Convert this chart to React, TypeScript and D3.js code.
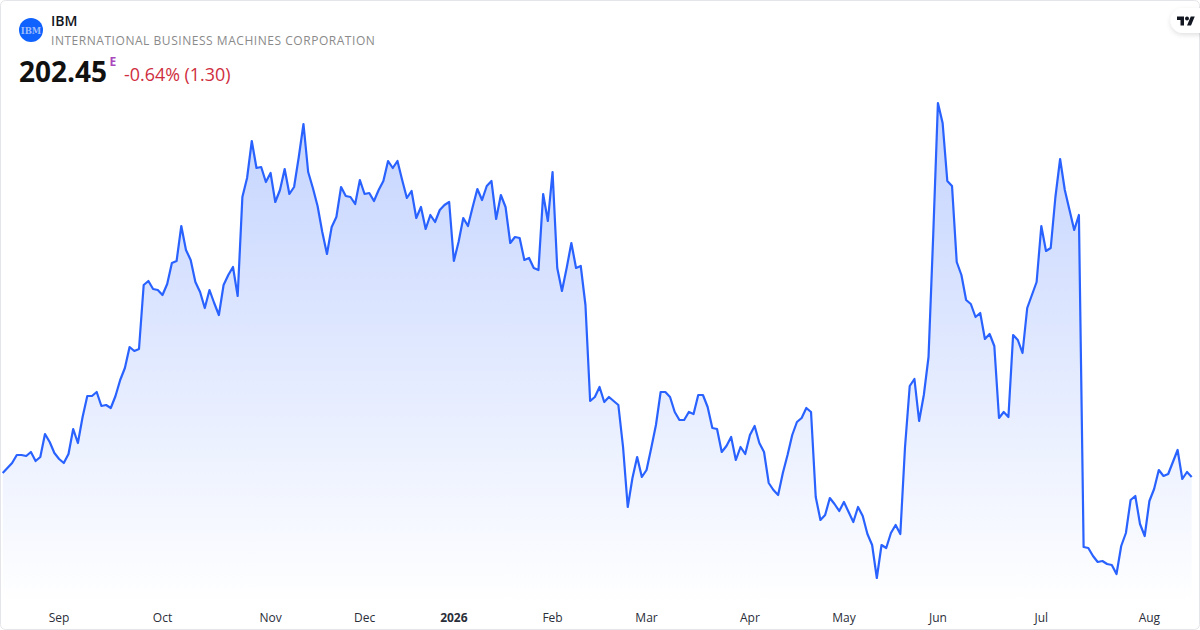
import { useEffect, useRef } from "react";
import * as d3 from "d3";

// daily close
const closes = [
  203.49, 204.79, 206.09, 208.17, 208.17, 207.91, 208.95, 206.61, 207.65, 213.63,
  211.55, 208.69, 207.13, 206.09, 208.43, 214.93, 211.29, 218.05, 223.51, 223.51,
  224.55, 220.91, 221.17, 220.39, 223.51, 227.67, 230.79, 236.25, 235.21, 235.73,
  252.37, 253.41, 251.33, 251.07, 249.77, 252.63, 258.09, 258.61, 267.71, 261.47,
  258.87, 253.15, 250.55, 246.39, 251.07, 247.69, 244.57, 252.37, 254.97, 257.05,
  249.51, 275.25, 280.19, 289.81, 282.79, 283.05, 279.15, 281.49, 273.95, 277.07,
  282.53, 276.03, 277.85, 285.65, 294.23, 281.75, 277.59, 272.91, 266.15, 260.43,
  267.45, 270.05, 277.85, 275.51, 275.25, 273.43, 279.67, 276.03, 276.29, 274.21,
  277.07, 279.41, 284.61, 282.79, 284.61, 279.67, 274.99, 276.81, 269.79, 272.65,
  266.93, 270.57, 268.75, 271.87, 273.17, 273.95, 258.61, 263.55, 269.79, 267.71,
  272.65, 277.33, 274.47, 278.11, 279.41, 269.53, 275.77, 272.65, 263.29, 264.85,
  264.59, 258.87, 259.39, 256.79, 256.27, 276.03, 269.01, 281.75, 256.79, 250.81,
  256.79, 263.29, 256.79, 257.31, 247.17, 222.21, 223.25, 225.85, 221.95, 223.25,
  222.21, 221.17, 210.25, 194.65, 202.19, 207.65, 202.45, 204.27, 209.99, 215.97,
  224.55, 224.55, 223.25, 219.35, 217.27, 217.27, 219.35, 218.83, 223.77, 223.77,
  220.65, 215.19, 214.93, 208.95, 210.51, 212.85, 206.87, 210.25, 208.43, 213.37,
  215.71, 211.29, 208.95, 200.89, 199.07, 197.77, 203.49, 208.17, 213.37, 216.75,
  217.79, 220.39, 219.35, 197.25, 191.27, 192.57, 196.99, 195.43, 193.61, 195.95,
  193.35, 190.75, 194.65, 192.31, 187.63, 184.77, 176.19, 184.77, 183.99, 187.89,
  189.97, 187.63, 210.25, 226.11, 227.93, 217.01, 223.77, 233.65, 265.37, 299.69,
  294.49, 279.41, 278.11, 258.35, 254.97, 248.47, 247.43, 244.05, 245.09, 238.33,
  239.63, 236.51, 217.79, 219.35, 218.05, 239.37, 238.07, 234.69, 246.39, 249.77,
  253.15, 267.71, 261.21, 261.99, 275.25, 285.13, 277.07, 271.87, 266.67, 270.57,
  184.25, 183.99, 181.91, 180.35, 180.61, 179.83, 179.57, 177.23, 184.51, 187.89,
  196.47, 197.51, 190.23, 187.11, 196.21, 199.33, 204.27, 202.71, 203.23, 206.35,
  209.47, 201.93, 203.75, 202.45,
];

// bar index where each month starts
const tickIndex = [12, 34, 57, 77, 96, 117, 137, 159, 179, 199, 221, 244];
const tickLabels = ["Sep", "Oct", "Nov", "Dec", "2026", "Feb", "Mar", "Apr", "May", "Jun", "Jul", "Aug"];

const W = 1200;
const H = 630;
const FONT = "'Open Sans', 'Noto Sans', sans-serif";
const BLUE = "#2962ff";

const App = () => {
  const svgRef = useRef<SVGSVGElement>(null);

  useEffect(() => {
    const svg = d3.select(svgRef.current);
    svg.selectAll("*").remove();

    const x = d3.scaleLinear().domain([0, closes.length - 1]).range([2.7, 1191.7]);
    const [lo, hi] = d3.extent(closes) as [number, number];
    const y = d3.scaleLinear().domain([lo, hi]).range([578, 103]);

    const defs = svg.append("defs");
    const grad = defs.append("linearGradient")
      .attr("id", "fade")
      .attr("gradientUnits", "userSpaceOnUse")
      .attr("x1", 0).attr("x2", 0)
      .attr("y1", 103).attr("y2", 604);
    grad.append("stop").attr("offset", 0).attr("stop-color", BLUE).attr("stop-opacity", 0.28);
    grad.append("stop").attr("offset", 1).attr("stop-color", BLUE).attr("stop-opacity", 0);

    const shadow = defs.append("filter").attr("id", "pill")
      .attr("x", "-30%").attr("y", "-30%").attr("width", "160%").attr("height", "170%");
    shadow.append("feDropShadow")
      .attr("dx", 0).attr("dy", 2).attr("stdDeviation", 2.5)
      .attr("flood-color", "#000").attr("flood-opacity", 0.12);

    svg.append("rect").attr("width", W).attr("height", H).attr("fill", "#fff");

    // Area + line
    const area = d3.area<number>()
      .x((_, i) => x(i))
      .y0(604)
      .y1((d) => y(d));
    svg.append("path").datum(closes).attr("d", area).attr("fill", "url(#fade)");

    const line = d3.line<number>()
      .x((_, i) => x(i))
      .y((d) => y(d));
    svg.append("path").datum(closes)
      .attr("d", line)
      .attr("fill", "none")
      .attr("stroke", BLUE)
      .attr("stroke-width", 2.2)
      .attr("stroke-linejoin", "round");

    // Month axis
    const axis = svg.append("g")
      .attr("transform", "translate(-0.5,610)")
      .call(
        d3.axisBottom(x)
          .tickValues(tickIndex)
          .tickSize(0)
          .tickPadding(3)
          .tickFormat((_, i) => tickLabels[i])
      );
    axis.select(".domain").remove();
    axis.selectAll("text")
      .style("font-family", FONT)
      .style("font-size", "12px")
      .style("fill", "#2a2e39")
      .style("font-weight", (d: any) => (d === 96 ? "700" : "400"));

    // Card border
    svg.append("rect")
      .attr("x", 0.5).attr("y", 0.5)
      .attr("width", W - 1).attr("height", H - 1)
      .attr("rx", 5)
      .attr("fill", "none")
      .attr("stroke", "#e4e5e8");

    // Header
    svg.append("circle").attr("cx", 31).attr("cy", 30).attr("r", 12).attr("fill", "#0f62fe");
    svg.append("text")
      .attr("x", 31).attr("y", 33.5)
      .attr("text-anchor", "middle")
      .attr("font-family", "'DejaVu Serif', serif")
      .attr("font-weight", 700)
      .attr("font-size", 8.5)
      .attr("fill", "#9dbcfb")
      .text("IBM");

    const label = (tx: number, ty: number, str: string, size: number, fill: string, weight = 400) =>
      svg.append("text")
        .attr("x", tx).attr("y", ty)
        .attr("font-family", FONT)
        .attr("font-size", size)
        .attr("font-weight", weight)
        .attr("fill", fill)
        .text(str);

    label(51, 26, "IBM", 14, "#131722", 600);
    label(51, 45, "INTERNATIONAL BUSINESS MACHINES CORPORATION", 12, "#8a8a8a").attr("letter-spacing", 0.54);
    label(19, 82, "202.45", 28, "#111111", 700);
    label(109.5, 66, "E", 12, "#ab47bc", 700);
    label(124, 81, "-0.64% (1.30)", 17.9, "#cf2e3e");

    // TradingView badge
    svg.append("path")
      .attr("d", "M1210 8H1183a12.5 12.5 0 0 0 0 25H1210z")
      .attr("fill", "#fff")
      .attr("filter", "url(#pill)");
    svg.append("g")
      .attr("transform", "translate(1177,14.5) scale(0.5)")
      .call((g) => {
        g.append("path")
          .attr("d", "M14 22H7V11H0V4h14v18zM28 22h-8l7.5-18h8L28 22z")
          .attr("fill", "#131722");
        g.append("circle").attr("cx", 20).attr("cy", 8).attr("r", 4).attr("fill", "#131722");
      });
  }, []);

  return <svg ref={svgRef} width={W} height={H} style={{ position: "fixed", left: 0, top: 0, display: "block" }} />;
};

export default App;
